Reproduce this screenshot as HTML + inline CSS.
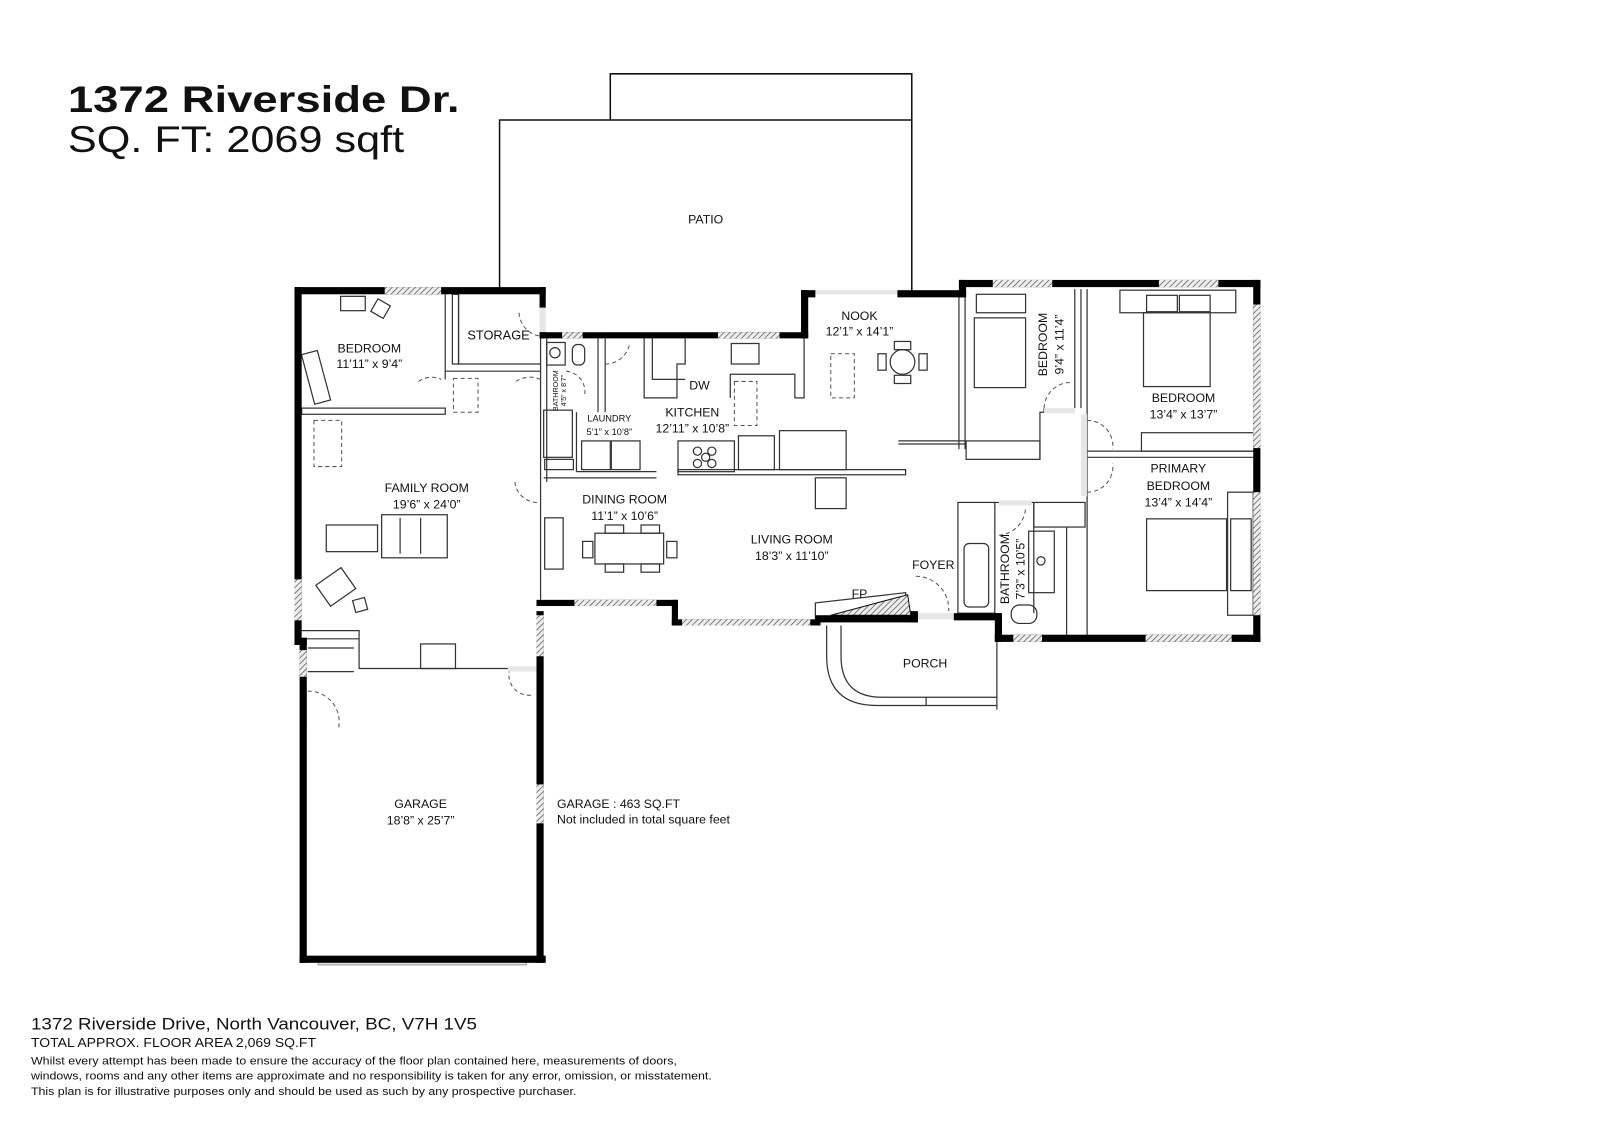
<!DOCTYPE html>
<html><head><meta charset="utf-8"><style>
html,body{margin:0;padding:0;background:#fff;}
svg{display:block;}
text{font-family:"Liberation Sans",sans-serif;fill:#111;}
</style></head><body>
<svg width="1600" height="1131" viewBox="0 0 1560 1103" xmlns="http://www.w3.org/2000/svg">
<defs>
<pattern id="h" width="4" height="4" patternUnits="userSpaceOnUse" patternTransform="rotate(45)">
<rect width="4" height="4" fill="#eee"/><line x1="0" y1="0" x2="0" y2="4" stroke="#666" stroke-width="1.6"/>
</pattern>
</defs>
<!-- titles -->
<text x="66" y="109" font-size="36" font-weight="bold" textLength="382" lengthAdjust="spacingAndGlyphs">1372 Riverside Dr.</text>
<text x="66" y="148" font-size="36" textLength="328" lengthAdjust="spacingAndGlyphs">SQ. FT: 2069 sqft</text>

<!-- patio -->
<g fill="none" stroke="#111" stroke-width="1.5">
<polyline points="595,117 595,72 889,72 889,117"/>
<polyline points="487,282 487,117 889,117 889,285"/>
</g>
<text x="688" y="218" font-size="12" text-anchor="middle">PATIO</text>

<!-- thin interior lines -->
<g fill="none" stroke="#333" stroke-width="1.2">
<rect x="294" y="398" width="140" height="6"/>
<line x1="434" y1="287" x2="434" y2="370"/>
<rect x="441" y="287" width="6" height="68"/>
<polyline points="447,287 447,355 527,355"/>
<line x1="434" y1="362" x2="527" y2="362"/>
<line x1="504" y1="362" x2="504" y2="362"/>
<line x1="527" y1="330" x2="527" y2="470"/>
<line x1="533" y1="330" x2="533" y2="470"/>
<rect x="533" y="334" width="18" height="22"/><circle cx="541" cy="344" r="5"/>
<rect x="558" y="336" width="12" height="20" rx="5"/>
<line x1="583" y1="330" x2="583" y2="402"/>
<line x1="590" y1="330" x2="590" y2="402"/>
<rect x="530" y="400" width="28" height="46"/>
<rect x="531" y="448" width="28" height="10"/>
<line x1="562" y1="402" x2="562" y2="460"/>
<rect x="567" y="430" width="28" height="28"/><rect x="596" y="430" width="28" height="28"/>
<line x1="562" y1="460" x2="640" y2="460"/>
<line x1="530" y1="466" x2="640" y2="466"/>
<polyline points="628,330 628,388 660,388 660,355 668,355 668,330"/>
<polyline points="636,330 636,370 668,370"/>
<rect x="713" y="335" width="27" height="20"/>
<polyline points="712,388 712,365 775,365 775,388 784,388 784,330"/>
<rect x="661" y="430" width="55" height="30"/>
<circle cx="680" cy="440" r="4"/><circle cx="694" cy="440" r="4"/><circle cx="688" cy="446" r="4"/><circle cx="680" cy="452" r="4"/><circle cx="694" cy="452" r="4"/>
<rect x="720" y="425" width="35" height="33"/>
<rect x="760" y="420" width="65" height="38"/>
<rect x="661" y="458" width="222" height="5"/>
<rect x="795" y="466" width="30" height="30"/>
<circle cx="880" cy="353" r="12"/>
<rect x="872" y="333" width="16" height="8"/><rect x="872" y="366" width="16" height="8"/>
<rect x="856" y="345" width="8" height="16"/><rect x="896" y="345" width="8" height="16"/>
<line x1="935" y1="290" x2="935" y2="438"/><line x1="941" y1="290" x2="941" y2="438"/>
<rect x="942" y="430" width="72" height="18"/>
<line x1="876" y1="430" x2="941" y2="430"/><line x1="876" y1="433" x2="941" y2="433"/>
<rect x="952" y="287" width="48" height="18"/>
<rect x="950" y="310" width="50" height="68"/>
<polyline points="1014,448 1014,402 1018,402 1018,398"/>
<line x1="1048" y1="398" x2="1048" y2="282"/><line x1="1054" y1="398" x2="1054" y2="282"/>
<line x1="1060" y1="282" x2="1060" y2="622"/>
<line x1="1060" y1="440" x2="1222" y2="440"/><line x1="1060" y1="446" x2="1222" y2="446"/>
<rect x="1113" y="422" width="110" height="18"/>
<rect x="1092" y="283" width="113" height="22"/>
<rect x="1118" y="288" width="30" height="16"/><rect x="1150" y="288" width="30" height="16"/>
<rect x="1115" y="305" width="65" height="72"/>
<rect x="1197" y="480" width="25" height="120"/>
<rect x="1118" y="506" width="78" height="70"/>
<rect x="1200" y="506" width="20" height="70"/>
<rect x="934" y="490" width="36" height="108"/>
<rect x="940" y="530" width="24" height="62" rx="5"/>
<polyline points="970,490 1008,490 1008,598"/>
<rect x="1008" y="490" width="50" height="24"/>
<rect x="1003" y="518" width="25" height="60"/>
<circle cx="1015" cy="547" r="4"/>
<line x1="1040" y1="514" x2="1040" y2="619"/>
<rect x="986" y="590" width="25" height="18" rx="8"/>
<polyline points="795,605 795,588 883,578 883,600"/>
<rect x="318" y="512" width="50" height="26"/>
<rect x="372" y="502" width="64" height="42"/>
<line x1="390" y1="505" x2="390" y2="540"/><line x1="410" y1="505" x2="410" y2="540"/>
<rect x="312" y="560" width="30" height="25" transform="rotate(-35 327 572)"/>
<rect x="345" y="584" width="12" height="12" transform="rotate(-15 351 590)"/>
<rect x="332" y="289" width="24" height="14"/>
<rect x="364" y="294" width="14" height="14" transform="rotate(30 371 301)"/>
<rect x="300" y="343" width="16" height="50" transform="rotate(-15 308 368)"/>
<rect x="410" y="628" width="34" height="24"/>
<polyline points="294,615 350,615 350,652 520,652"/>
<line x1="294" y1="623" x2="350" y2="623"/>
<line x1="300" y1="632" x2="345" y2="632"/>
<line x1="300" y1="655" x2="345" y2="655"/>
<rect x="531" y="505" width="18" height="50"/>
<rect x="580" y="520" width="67" height="30"/>
<rect x="568" y="528" width="10" height="16"/><rect x="650" y="528" width="10" height="16"/>
<rect x="590" y="512" width="18" height="8"/><rect x="625" y="512" width="18" height="8"/>
<rect x="590" y="550" width="18" height="8"/><rect x="625" y="550" width="18" height="8"/>
<line x1="527" y1="470" x2="527" y2="585"/>
<path d="M806,610 L806,640 Q806,688 855,688 L972,688"/>
<path d="M820,610 L820,640 Q820,680 860,680 L972,680"/>
<line x1="972" y1="607" x2="972" y2="692"/>
<line x1="903" y1="688" x2="903" y2="680"/>
</g>
<!-- dashed items -->
<g fill="none" stroke="#555" stroke-width="1" stroke-dasharray="4,3">
<rect x="442" y="369" width="24" height="33"/>
<rect x="306" y="410" width="27" height="45"/>
<rect x="716" y="372" width="22" height="43"/>
<rect x="810" y="345" width="23" height="43"/>
<path d="M506,305 A24,24 0 0 0 530,328"/>
<path d="M408,372 A22,22 0 0 1 430,370"/>
<path d="M503,372 A25,25 0 0 1 527,370"/>
<path d="M590,355 A24,24 0 0 0 614,334"/>
<path d="M552,362 A20,20 0 0 1 570,385"/>
<path d="M502,470 A22,22 0 0 0 525,490"/>
<path d="M497,652 A20,20 0 0 0 518,678"/>
<path d="M300,674 A30,30 0 0 1 330,710"/>
<path d="M1018,398 A26,26 0 0 1 1045,373"/>
<path d="M1060,410 A25,25 0 0 1 1085,438"/>
<path d="M1060,480 A25,25 0 0 0 1085,452"/>
<path d="M893,562 A32,32 0 0 1 925,596"/>
<path d="M974,522 A28,28 0 0 0 1000,495"/>
</g>
<!-- fireplace hatch -->
<polygon points="810,600 885,580 888,600" fill="url(#h)" stroke="#111" stroke-width="1"/>

<!-- light window/openings -->
<g fill="#e6e6e6">
<rect x="526" y="300" width="6" height="26"/>
<rect x="590" y="324" width="32" height="6"/>
<rect x="795" y="283" width="80" height="4"/>
<rect x="888" y="598" width="42" height="6"/>
<rect x="293" y="670" width="6" height="40"/>
<rect x="495" y="650" width="28" height="5"/>
<rect x="310" y="935" width="203" height="6" stroke="#999" stroke-width="1"/>
<rect x="1054" y="404" width="6" height="80"/>
<rect x="974" y="488" width="32" height="5"/>
<rect x="1018" y="398" width="30" height="5"/>
</g>
<!-- walls -->
<g fill="#000">
<rect x="287" y="280" width="245" height="7"/>
<rect x="287" y="280" width="7" height="345"/>
<rect x="287" y="622" width="12" height="7"/>
<rect x="292" y="622" width="7" height="317"/>
<rect x="292" y="932" width="240" height="7"/>
<rect x="523" y="596" width="7" height="343"/>
<rect x="523" y="585" width="138" height="6"/>
<rect x="655" y="585" width="6" height="25"/>
<rect x="655" y="604" width="145" height="6"/>
<rect x="795" y="600" width="100" height="7"/>
<rect x="888" y="596" width="7" height="11"/>
<rect x="930" y="598" width="46" height="7"/>
<rect x="970" y="598" width="7" height="28"/>
<rect x="970" y="619" width="259" height="7"/>
<rect x="1222" y="273" width="7" height="353"/>
<rect x="935" y="273" width="294" height="7"/>
<rect x="935" y="273" width="7" height="17"/>
<rect x="875" y="283" width="67" height="7"/>
<rect x="781" y="283" width="14" height="7"/>
<rect x="781" y="283" width="7" height="47"/>
<rect x="526" y="324" width="262" height="6"/>
<rect x="526" y="280" width="6" height="20"/>
<rect x="526" y="324" width="6" height="6"/>
</g>
<!-- hatched windows over walls -->
<g fill="url(#h)">
<rect x="375" y="280" width="55" height="7"/>
<rect x="287" y="565" width="7" height="40"/>
<rect x="292" y="634" width="7" height="26"/>
<rect x="523" y="600" width="7" height="40"/>
<rect x="523" y="765" width="7" height="38"/>
<rect x="548" y="324" width="20" height="6"/>
<rect x="622" y="324" width="0" height="6"/>
<rect x="700" y="324" width="60" height="6"/>
<rect x="560" y="585" width="80" height="6"/>
<rect x="665" y="604" width="125" height="6"/>
<rect x="968" y="273" width="58" height="7"/>
<rect x="1130" y="273" width="58" height="7"/>
<rect x="1222" y="297" width="7" height="140"/>
<rect x="1222" y="480" width="7" height="120"/>
<rect x="988" y="619" width="28" height="7"/>
<rect x="1117" y="619" width="84" height="7"/>
<rect x="281" y="590" width="0" height="0"/>
</g>

<!-- labels -->
<g font-size="12" text-anchor="middle">
<text x="360" y="344">BEDROOM</text><text x="360" y="359">11’11” x 9’4”</text>
<text x="486" y="331" font-size="12.5">STORAGE</text>
<text x="594" y="411" font-size="9">LAUNDRY</text><text x="594" y="424" font-size="9">5’1” x 10’8”</text>
<text x="675" y="406">KITCHEN</text><text x="675" y="422">12’11” x 10’8”</text>
<text x="682" y="380">DW</text>
<text x="838" y="312">NOOK</text><text x="838" y="327">12’1” x 14’1”</text>
<text x="1154" y="392">BEDROOM</text><text x="1154" y="408">13’4” x 13’7”</text>
<text x="1149" y="461">PRIMARY</text><text x="1149" y="478">BEDROOM</text><text x="1149" y="494">13’4” x 14’4”</text>
<text x="416" y="480">FAMILY ROOM</text><text x="416" y="496">19’6” x 24’0”</text>
<text x="609" y="491">DINING ROOM</text><text x="609" y="507">11’1” x 10’6”</text>
<text x="772" y="530">LIVING ROOM</text><text x="772" y="546">18’3” x 11’10”</text>
<text x="910" y="555">FOYER</text>
<text x="838" y="583">FP</text>
<text x="902" y="651">PORCH</text>
<text x="410" y="788">GARAGE</text><text x="410" y="804">18’8” x 25’7”</text>
<text transform="translate(1021,336) rotate(-90)">BEDROOM</text>
<text transform="translate(1037,336) rotate(-90)">9’4” x 11’4”</text>
<text transform="translate(984,555) rotate(-90)">BATHROOM</text>
<text transform="translate(999,555) rotate(-90)">7’3” x 10’5”</text>
<text transform="translate(544,381) rotate(-90)" font-size="7">BATHROOM</text>
<text transform="translate(552,381) rotate(-90)" font-size="7">4’5” x 8’7”</text>
</g>
<text x="543" y="788" font-size="12">GARAGE : 463 SQ.FT</text>
<text x="543" y="803" font-size="12">Not included in total square feet</text>

<!-- footer -->
<text x="30" y="1004" font-size="16" textLength="435" lengthAdjust="spacingAndGlyphs">1372 Riverside Drive, North Vancouver, BC, V7H 1V5</text>
<text x="30" y="1021" font-size="12.5" textLength="278" lengthAdjust="spacingAndGlyphs">TOTAL APPROX. FLOOR AREA 2,069 SQ.FT</text>
<text x="30" y="1038" font-size="11" textLength="630" lengthAdjust="spacingAndGlyphs">Whilst every attempt has been made to ensure the accuracy of the floor plan contained here, measurements of doors,</text>
<text x="30" y="1053" font-size="11" textLength="664" lengthAdjust="spacingAndGlyphs">windows, rooms and any other items are approximate and no responsibility is taken for any error, omission, or misstatement.</text>
<text x="30" y="1068" font-size="11" textLength="532" lengthAdjust="spacingAndGlyphs">This plan is for illustrative purposes only and should be used as such by any prospective purchaser.</text>
</svg>
</body></html>
